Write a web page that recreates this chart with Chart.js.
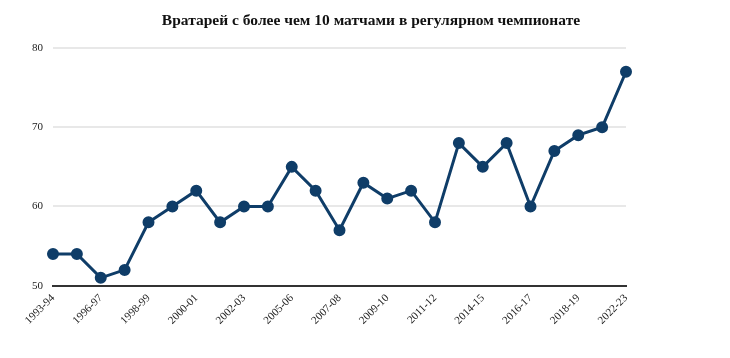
<!DOCTYPE html>
<html>
<head>
<meta charset="utf-8">
<script src="https://cdn.jsdelivr.net/npm/chart.js@4.4.0/dist/chart.umd.min.js"></script>
<style>
  html, body { margin:0; padding:0; background:#fff; }
  #wrap { position:relative; width:730px; height:358px; }
</style>
</head>
<body>
<div id="wrap"><canvas id="chart" aria-label="Goalies with more than 10 regular season games" role="img"></canvas></div>
<script>
const seasons = [
  "1993-94","1995-96","1996-97","1997-98","1998-99","1999-00","2000-01","2001-02","2002-03",
  "2003-04","2005-06","2006-07","2007-08","2008-09","2009-10","2010-11","2011-12","2013-14",
  "2014-15","2015-16","2016-17","2017-18","2018-19","2021-22","2022-23"
];
const goalies = [54,54,51,52,58,60,62,58,60,60,65,62,57,63,61,62,58,68,65,68,60,67,69,70,77];
const yTicks  = [50,60,70,80];
const TITLE   = "Вратарей с более чем 10 матчами в регулярном чемпионате";

const LINE = "#0f3d68";
const serif = "'Liberation Serif', 'DejaVu Serif', serif";

// title centred on the page, not on the padded box
const pageTitle = {
  id:"pageTitle",
  afterDraw(chart){
    const c = chart.ctx;
    c.save();
    c.font = "bold 15.5px " + serif;
    c.fillStyle = "#111";
    c.textAlign = "center";
    c.textBaseline = "middle";
    c.fillText(TITLE, 371, 21);
    c.restore();
  }
};

new Chart(document.getElementById("chart"), {
  type:"line",
  data:{
    labels: seasons,
    datasets:[{
      data: goalies,
      borderColor: LINE, backgroundColor: LINE,
      borderWidth: 3, pointRadius: 4.5, pointHoverRadius: 4.5,
      pointBackgroundColor: LINE, pointBorderColor: LINE,
      tension: 0
    }]
  },
  options:{
    responsive:true, maintainAspectRatio:false, animation:false,
    layout:{ padding:{ left:22, right:104, top:48, bottom:25 } },
    plugins:{
      legend:{ display:false },
      tooltip:{ enabled:false },
      title:{ display:false }
    },
    scales:{
      x:{
        offset:false,
        grid:{ display:false, drawTicks:false },
        border:{ display:true, color:"#333", width:2 },
        ticks:{
          autoSkip:false, minRotation:45, maxRotation:45, padding:6,
          color:"#222", font:{ family:serif, size:11 },
          callback:function(v, i){ return i % 2 === 0 ? this.getLabelForValue(v) : ""; }
        }
      },
      y:{
        min:yTicks[0], max:yTicks[yTicks.length-1],
        afterBuildTicks: ax => { ax.ticks = yTicks.map(v => ({ value:v })); },
        grid:{ color:"#e8e8e8", lineWidth:2, drawTicks:false },
        border:{ display:false },
        ticks:{ padding:10, color:"#222", font:{ family:serif, size:11 } }
      }
    }
  },
  plugins:[pageTitle]
});
</script>
</body>
</html>
